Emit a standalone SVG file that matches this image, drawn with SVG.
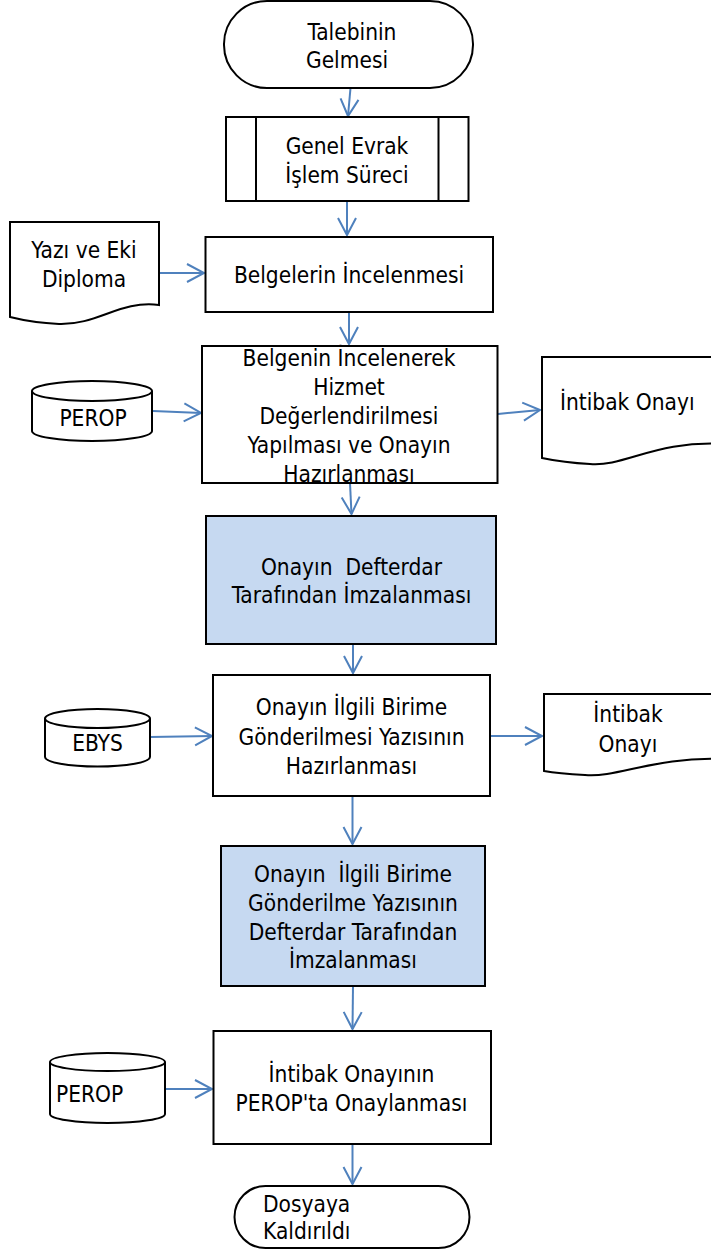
<svg xmlns="http://www.w3.org/2000/svg" width="711" height="1252" viewBox="0 0 711 1252">
<style>
.s{fill:#fff;stroke:#000;stroke-width:2}
.b{fill:#C6D9F1;stroke:#000;stroke-width:2}
.t{font-family:"DejaVu Sans Condensed","DejaVu Sans","Liberation Sans",sans-serif;font-stretch:condensed;font-size:22.5px;fill:#000;text-anchor:middle}
.l{text-anchor:start}
.c{fill:none;stroke:#4F81BD;stroke-width:2;marker-end:url(#ah)}
</style>
<defs>
<marker id="ah" markerUnits="userSpaceOnUse" viewBox="-20 -11 22 22" markerWidth="22" markerHeight="22" refX="0" refY="0" orient="auto" overflow="visible">
<path d="M-17,-9 L0,0 L-17,9" fill="none" stroke="#4F81BD" stroke-width="2"/>
</marker>
</defs>
<rect width="711" height="1252" fill="#fff"/>
<g id="connectors">
<path class="c" d="M350.5,88 L348,116"/>
<path class="c" d="M347,201 L347,235"/>
<path class="c" d="M159,273 L204,273"/>
<path class="c" d="M349,312 L349,344"/>
<path class="c" d="M153,411 L201,413"/>
<path class="c" d="M498,414 L540,410"/>
<path class="c" d="M350,483 L351.5,514"/>
<path class="c" d="M353,644 L353,673"/>
<path class="c" d="M150,737 L212,736"/>
<path class="c" d="M490,736 L542,736"/>
<path class="c" d="M352.5,796 L352.5,844"/>
<path class="c" d="M353,986 L352.5,1029"/>
<path class="c" d="M165,1089 L212,1089"/>
<path class="c" d="M352.5,1144 L352.5,1184"/>
</g>
<g id="start">
<rect class="s" x="224" y="1" width="249" height="87" rx="43" ry="43"/>
<text class="t" x="352" y="40">Talebinin</text>
<text class="t" x="347" y="68">Gelmesi</text>
</g>
<g id="genel-evrak">
<rect class="s" x="226" y="117" width="242.5" height="84"/>
<line x1="256" y1="117" x2="256" y2="201" stroke="#000" stroke-width="2"/>
<line x1="438.5" y1="117" x2="438.5" y2="201" stroke="#000" stroke-width="2"/>
<text class="t" x="347" y="154">Genel Evrak</text>
<text class="t" x="347" y="183">İşlem Süreci</text>
</g>
<g id="yazi-doc">
<path class="s" d="M10,222 H159 V305 C120,300 98,325 59,324 C38,323 22,320 10,317 Z"/>
<text class="t" x="84" y="258">Yazı ve Eki</text>
<text class="t" x="84" y="287">Diploma</text>
</g>
<g id="belgelerin">
<rect class="s" x="205.5" y="237" width="287.5" height="75"/>
<text class="t" x="349" y="283">Belgelerin İncelenmesi</text>
</g>
<g id="perop1">
<path class="s" d="M32,391 V431 A60,10 0 0 0 152,431 V391"/>
<ellipse class="s" cx="92" cy="391" rx="60" ry="10"/>
<text class="t" x="93" y="426">PEROP</text>
</g>
<g id="belgenin">
<rect class="s" x="202" y="346" width="295.5" height="137"/>
<text class="t" x="349" y="366">Belgenin İncelenerek</text>
<text class="t" x="349" y="395">Hizmet</text>
<text class="t" x="349" y="424">Değerlendirilmesi</text>
<text class="t" x="349" y="453">Yapılması ve Onayın</text>
<text class="t" x="349" y="482">Hazırlanması</text>
</g>
<g id="intibak-doc1">
<path class="s" d="M542,357 H725 V444 C655,440 625,467 590,464 C570,463 556,461 542,458 Z"/>
<text class="t l" x="560" y="410">İntibak Onayı</text>
</g>
<g id="defterdar-imza">
<rect class="b" x="206" y="516" width="290" height="128"/>
<text class="t" x="351.5" y="575" xml:space="preserve">Onayın  Defterdar</text>
<text class="t" x="351.5" y="603">Tarafından İmzalanması</text>
</g>
<g id="ebys">
<path class="s" d="M45,718.5 V757 A52.5,9.5 0 0 0 150,757 V718.5"/>
<ellipse class="s" cx="97.5" cy="718.5" rx="52.5" ry="9.5"/>
<text class="t" x="97.5" y="751">EBYS</text>
</g>
<g id="gonderilmesi">
<rect class="s" x="213" y="675" width="277" height="121"/>
<text class="t" x="351.5" y="715">Onayın İlgili Birime</text>
<text class="t" x="351.5" y="745">Gönderilmesi Yazısının</text>
<text class="t" x="351.5" y="774">Hazırlanması</text>
</g>
<g id="intibak-doc2">
<path class="s" d="M544,694 H725 V759 C655,756 618,778 585,775 C566,774 555,773 544,771 Z"/>
<text class="t" x="628" y="722">İntibak</text>
<text class="t" x="628" y="752">Onayı</text>
</g>
<g id="gonderilme-imza">
<rect class="b" x="221" y="846" width="264" height="140"/>
<text class="t" x="353" y="882" xml:space="preserve">Onayın  İlgili Birime</text>
<text class="t" x="353" y="911">Gönderilme Yazısının</text>
<text class="t" x="353" y="940">Defterdar Tarafından</text>
<text class="t" x="353" y="968">İmzalanması</text>
</g>
<g id="perop2">
<path class="s" d="M50,1062 V1114 A57.5,9 0 0 0 165,1114 V1062"/>
<ellipse class="s" cx="107.5" cy="1062" rx="57.5" ry="9"/>
<text class="t l" x="56" y="1102">PEROP</text>
</g>
<g id="perop-onay">
<rect class="s" x="213.5" y="1031" width="277.5" height="113"/>
<text class="t" x="351.5" y="1082">İntibak Onayının</text>
<text class="t" x="351.5" y="1111">PEROP'ta Onaylanması</text>
</g>
<g id="end">
<rect class="s" x="234.5" y="1186" width="235" height="62" rx="31" ry="31"/>
<text class="t l" x="263" y="1212">Dosyaya</text>
<text class="t l" x="263" y="1239">Kaldırıldı</text>
</g>
</svg>
